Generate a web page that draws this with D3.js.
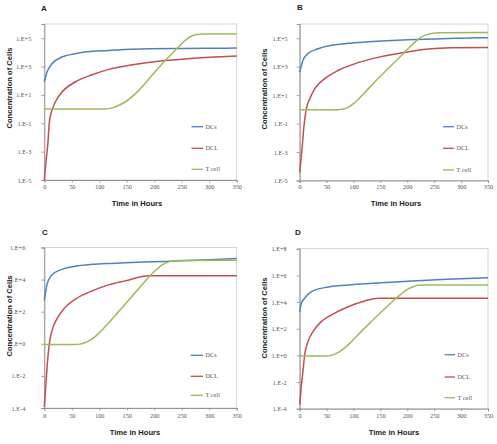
<!DOCTYPE html>
<html><head><meta charset="utf-8">
<script src="https://cdn.jsdelivr.net/npm/d3@7"></script>
<style>
body{margin:0;background:#fff;}
svg{display:block;font-family:"Liberation Sans",Arial,sans-serif;}
</style></head><body>
<svg id="c" width="497" height="444"></svg>
<script>
// ---- data ----
const seriesNames = ["DCs", "DCL", "T cell"];
const xTicks = [0, 50, 100, 150, 200, 250, 300, 350];

// Panel A
const aDCst = [0, 5, 14, 32, 56, 87, 117, 147, 196, 250, 300, 350];
const aDCs = [81, 407, 1585, 4677, 7943, 11750, 13800, 16220, 18200, 19050, 19500, 19950];
const aDCLt = [0, 3, 6.7, 9.2, 14, 20, 32, 56, 87, 117, 147, 196, 220, 250, 300, 350];
const aDCL = [1e-5, 1.82e-4, 4.68e-3, 0.12, 0.813, 3.16, 15.8, 81.3, 263, 631, 1096, 2089, 2630, 3311, 4467, 5623];
const aTt = [0, 111, 120, 132, 147, 172, 196, 220, 240, 255, 265, 275, 290, 350];
const aT = [1, 1, 1.12, 1.6, 3.16, 20.9, 240, 2630, 16600, 63100, 125900, 177800, 199500, 199500];
const aYTicks = [1e-5, 1e-3, 1e-1, 1e1, 1e3, 1e5];
const aYLabels = ["1.E-5", "1.E-3", "1.E-1", "1.E+1", "1.E+3", "1.E+5"];

// Panel B
const bDCst = [0, 6, 15, 34, 59, 90, 121, 152, 201, 250, 300, 350];
const bDCs = [407, 2754, 8128, 18200, 31620, 43650, 53700, 63100, 77600, 89100, 100000, 109600];
const bDCLt = [0, 4.3, 8, 12.3, 18.5, 27.8, 46, 71, 102, 139, 183, 201, 230, 260, 280, 350];
const bDCL = [3.63e-5, 1.62e-3, 0.0724, 1.07, 5.37, 27.5, 138, 537, 1585, 3981, 8511, 10720, 15850, 19950, 21380, 22390];
const bTt = [0, 71, 80, 90, 100, 110, 120, 139, 164, 189, 205, 220, 232, 245, 260, 350];
const bT = [0.955, 0.955, 1.047, 1.38, 2.51, 5.62, 13.8, 81.3, 708, 6166, 25120, 83180, 158500, 213800, 239900, 251200];
const bYTicks = [1e-5, 1e-3, 1e-1, 1e1, 1e3, 1e5];
const bYLabels = ["1.E-5", "1.E-3", "1.E-1", "1.E+1", "1.E+3", "1.E+5"];

// Panel C
const cDCst = [0, 5, 14, 32, 56, 87, 117, 147, 196, 250, 300, 350];
const cDCs = [501, 5129, 19500, 43650, 67600, 89100, 102300, 112200, 128800, 147900, 173800, 208900];
const cDCLt = [0, 3, 6, 9.2, 14, 23, 38, 56.5, 87, 117, 147, 190, 350];
const cDCL = [1.2e-4, 3.39e-3, 0.0933, 1, 6.61, 35.5, 186, 603, 1995, 4677, 8318, 17380, 17380];
const cTt = [0, 56, 65, 75, 87, 99, 111, 123, 147, 172, 190, 203, 215, 228, 245, 350];
const cT = [0.912, 0.912, 0.955, 1.2, 2.0, 4.47, 12.0, 33.9, 295, 2818, 14130, 39810, 85110, 131800, 154900, 158500];
const cYTicks = [1e-4, 1e-2, 1e0, 1e2, 1e4, 1e6];
const cYLabels = ["1.E-4", "1.E-2", "1.E+0", "1.E+2", "1.E+4", "1.E+6"];

// Panel D
const dDCst = [0, 3, 9, 22, 46, 96, 152, 201, 273, 350];
const dDCs = [1862, 7943, 19050, 60260, 120200, 199500, 281800, 354800, 501200, 676100];
const dDCLt = [0, 3, 6, 9.2, 15.4, 24.7, 40, 59, 90, 121, 146, 350];
const dDCL = [2e-4, 5e-3, 0.0631, 1.07, 10.7, 60.3, 339, 1072, 4467, 12020, 19050, 19050];
const dTt = [0, 50, 60, 72, 82, 92, 108, 133, 158, 180, 200, 211, 220, 235, 350];
const dT = [0.891, 0.891, 1.047, 1.66, 3.16, 7.24, 33.9, 339, 3162, 19950, 89130, 141300, 177800, 190500, 190500];
const dYTicks = [1e-4, 1e-2, 1e0, 1e2, 1e4, 1e6, 1e8];
const dYLabels = ["1.E-4", "1.E-2", "1.E+0", "1.E+2", "1.E+4", "1.E+6", "1.E+8"];

const colors = ["#4f81bd", "#c0504d", "#9bbb59"];

// ---- layout ----
const panels = [
  {letter:"A", L:44.3, R:236.7, T:24, B:180, dom:[1e-5,1e6], yt:aYTicks, yl:aYLabels, gap:13,
   series:[[aDCst,aDCs],[aDCLt,aDCL],[aTt,aT]], letterXY:[41,11], ytitle:[9,88], xtitle:[137,206], xlabY:191,
   legX:[191.5,203,205.5], legY:[126.7,148.3,169.3]},
  {letter:"B", L:299.7, R:488, T:24, B:180.5, dom:[1e-5,1e6], yt:bYTicks, yl:bYLabels, gap:12,
   series:[[bDCst,bDCs],[bDCLt,bDCL],[bTt,bT]], letterXY:[297,10], ytitle:[264,89], xtitle:[396,206], xlabY:191,
   legX:[443,454,456.5], legY:[126.7,148.3,170]},
  {letter:"C", L:44.3, R:236.7, T:247.5, B:408, dom:[1e-4,1e6], yt:cYTicks, yl:cYLabels, gap:19,
   series:[[cDCst,cDCs],[cDCLt,cDCL],[cTt,cT]], letterXY:[42,235], ytitle:[9,316], xtitle:[135,435], xlabY:420,
   legX:[190.7,203,205.5], legY:[355.3,376.3,395.3]},
  {letter:"D", L:299.7, R:488, T:248.7, B:408.7, dom:[1e-4,1e8], yt:dYTicks, yl:dYLabels, gap:13,
   series:[[dDCst,dDCs],[dDCLt,dDCL],[dTt,dT]], letterXY:[295,235], ytitle:[264,318], xtitle:[394,435], xlabY:420,
   legX:[444.7,455,457.5], legY:[354.7,377,397.7]}
];

const svg = d3.select("#c");

panels.forEach(p => {
  const g = svg.append("g");
  const x = d3.scaleLinear().domain([0,350]).range([p.L,p.R]);
  const y = d3.scaleLog().domain(p.dom).range([p.B,p.T]);

  // plot frame (light)
  g.append("rect").attr("x",p.L).attr("y",p.T).attr("width",p.R-p.L).attr("height",p.B-p.T)
    .attr("fill","none").attr("stroke","#c8c8c8").attr("stroke-width",0.8);

  // y axis
  const ya = d3.axisLeft(y).tickValues(p.yt).tickFormat((d,i)=>p.yl[i]).tickSize(3).tickPadding(p.gap-3);
  const yg = g.append("g").attr("transform",`translate(${p.L},0)`).call(ya);
  // x axis
  const xa = d3.axisBottom(x).tickValues(xTicks).tickFormat(d3.format("d")).tickSize(2.5).tickPadding(3);
  const xg = g.append("g").attr("transform",`translate(0,${p.B})`).call(xa);
  [yg,xg].forEach(a=>{
    a.select(".domain").attr("stroke","#8a8a8a").attr("stroke-width",0.9);
    a.selectAll(".tick line").attr("stroke","#8a8a8a").attr("stroke-width",0.8);
    a.selectAll("text").attr("fill","#555").attr("font-size","6.3px").attr("font-family","'Liberation Serif',serif");
  });
  xg.selectAll("text").attr("y", p.xlabY - p.B - 4).attr("dy","0.32em");

  // lines
  const line = d3.line().x(d=>x(d[0])).y(d=>y(d[1])).curve(d3.curveMonotoneX);
  p.series.forEach((s,i)=>{
    const pts = s[0].map((t,k)=>[t,s[1][k]]);
    g.append("path").datum(pts).attr("d",line).attr("fill","none")
      .attr("stroke",colors[i]).attr("stroke-width",1.5).attr("stroke-linejoin","round");
  });

  // legend
  seriesNames.forEach((n,i)=>{
    g.append("line").attr("x1",p.legX[0]).attr("x2",p.legX[1]).attr("y1",p.legY[i]).attr("y2",p.legY[i])
      .attr("stroke",colors[i]).attr("stroke-width",1.3);
    g.append("text").attr("x",p.legX[2]).attr("y",p.legY[i]).attr("dy","0.33em")
      .attr("font-size","6.3px").attr("fill","#555").attr("font-family","'Liberation Serif',serif").text(n);
  });

  // titles
  g.append("text").attr("x",p.letterXY[0]).attr("y",p.letterXY[1]).attr("font-size","8px")
    .attr("font-weight","bold").attr("fill","#222").text(p.letter);
  g.append("text").attr("transform",`translate(${p.ytitle[0]},${p.ytitle[1]}) rotate(-90)`)
    .attr("text-anchor","middle").attr("dy","0.35em").attr("font-size","7.6px").attr("font-weight","bold").attr("fill","#222")
    .text("Concentration of Cells");
  g.append("text").attr("x",p.xtitle[0]).attr("y",p.xtitle[1]).attr("text-anchor","middle")
    .attr("font-size","7.6px").attr("font-weight","bold").attr("fill","#222").text("Time in Hours");
});
</script>
</body></html>
